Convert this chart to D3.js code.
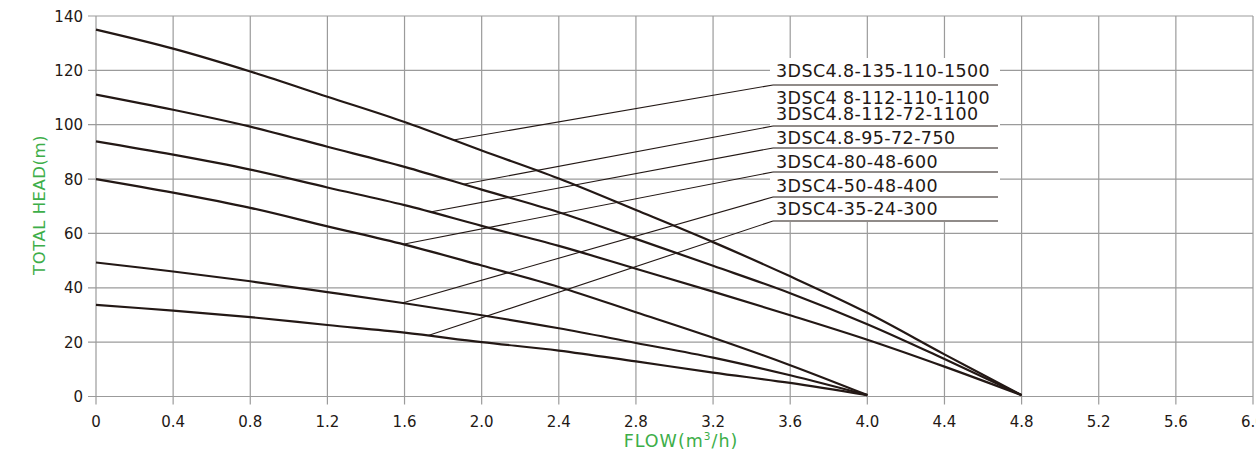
<!DOCTYPE html>
<html>
<head>
<meta charset="utf-8">
<script src="https://cdn.jsdelivr.net/npm/d3@7"></script>
<style>
 body { margin: 0; background: #fff; }
 text { font-family: "DejaVu Sans", sans-serif; }
</style>
</head>
<body>
<div id="chart"></div>
<script>
// flow points (m3/h) and head readings (m) for each pump curve
const flowLong = [0, 0.4, 0.8, 1.2, 1.6, 2.0, 2.4, 2.8, 3.2, 3.6, 4.0, 4.4, 4.8];
const flowShort = [0, 0.4, 0.8, 1.2, 1.6, 2.0, 2.4, 2.8, 3.2, 3.6, 4.0];

const head135 = [135, 128, 119.6, 110.3, 101, 90.5, 80.2, 68.6, 56.8, 44.2, 30.8, 15.5, 0.5];
const head111 = [111.1, 105.5, 99.3, 91.9, 84.5, 76.1, 67.8, 58.0, 48.1, 38.0, 26.6, 13.8, 0.5];
const head94 = [93.9, 89, 83.5, 76.9, 70.4, 62.8, 55.4, 47.0, 38.6, 29.9, 20.9, 11.0, 0.5];
const head80 = [80, 75, 69.4, 62.6, 55.9, 48.2, 40.3, 31.0, 21.6, 11.5, 0.5];
const head49 = [49.3, 46, 42.4, 38.4, 34.3, 29.9, 25.1, 19.7, 14.3, 7.8, 0.5];
const head34 = [33.7, 31.6, 29.2, 26.3, 23.5, 20.0, 16.9, 12.9, 8.8, 5.0, 0.5];

const models = [
 "3DSC4.8-135-110-1500",
 "3DSC4 8-112-110-1100",
 "3DSC4.8-112-72-1100",
 "3DSC4.8-95-72-750",
 "3DSC4-80-48-600",
 "3DSC4-50-48-400",
 "3DSC4-35-24-300"
];
// flow where each leader line touches its curve
const leaderFlow = [1.853, 1.905, 1.733, 1.593, 1.588, 1.723];

const xTicks = [0, 0.4, 0.8, 1.2, 1.6, 2.0, 2.4, 2.8, 3.2, 3.6, 4.0, 4.4, 4.8, 5.2, 5.6, 6.0];
const yTicks = [0, 20, 40, 60, 80, 100, 120, 140];

const curves = [
 { q: flowLong, h: head135 },
 { q: flowLong, h: head111 },
 { q: flowLong, h: head94 },
 { q: flowShort, h: head80 },
 { q: flowShort, h: head49 },
 { q: flowShort, h: head34 }
];

const width = 1256;
const height = 455;
const margin = { top: 16, right: 3, bottom: 58.5, left: 96 };

const svg = d3
 .select("#chart")
 .append("svg")
 .attr("width", width)
 .attr("height", height);

const x = d3.scaleLinear().domain([0, 6]).range([margin.left, width - margin.right]);
const y = d3.scaleLinear().domain([0, 140]).range([height - margin.bottom, margin.top]);

const gridColor = "#9b9b9b";
const ink = "#231815";

// grid
svg.append("g")
 .selectAll("line")
 .data(xTicks)
 .join("line")
 .attr("x1", (d) => x(d)).attr("x2", (d) => x(d))
 .attr("y1", y(140)).attr("y2", y(0) + 8)
 .attr("stroke", gridColor).attr("stroke-width", 1.2);

svg.append("g")
 .selectAll("line")
 .data(yTicks)
 .join("line")
 .attr("x1", x(0) - 8).attr("x2", x(6))
 .attr("y1", (d) => y(d)).attr("y2", (d) => y(d))
 .attr("stroke", gridColor).attr("stroke-width", 1.2);

// tick labels
svg.append("g")
 .selectAll("text")
 .data(xTicks)
 .join("text")
 .attr("x", (d) => x(d))
 .attr("y", y(0) + 30)
 .attr("text-anchor", "middle")
 .attr("font-size", 15)
 .attr("fill", ink)
 .text((d) => (d === 0 ? "0" : d.toFixed(1)));

svg.append("g")
 .selectAll("text")
 .data(yTicks)
 .join("text")
 .attr("x", x(0) - 13)
 .attr("y", (d) => y(d) + 5.5)
 .attr("text-anchor", "end")
 .attr("font-size", 15)
 .attr("fill", ink)
 .text((d) => d);

// axis titles
svg.append("text")
 .attr("transform", "translate(45,205) rotate(-90)")
 .attr("text-anchor", "middle")
 .attr("font-size", 16.5)
 .attr("letter-spacing", 0.5)
 .attr("fill", "#3dae49")
 .text("TOTAL HEAD(m)");

const xt = svg.append("text")
 .attr("x", 681)
 .attr("y", 447)
 .attr("text-anchor", "middle")
 .attr("font-size", 17.5)
 .attr("letter-spacing", 1)
 .attr("fill", "#3dae49");
xt.append("tspan").text("FLOW(m");
xt.append("tspan").attr("font-size", 10.5).attr("dy", -7).text("3");
xt.append("tspan").attr("dy", 7).text("/h)");

// curves
const line = d3.line()
 .x((d) => x(d[0]))
 .y((d) => y(d[1]))
 .curve(d3.curveCatmullRom.alpha(0.5));

svg.append("g")
 .selectAll("path")
 .data(curves)
 .join("path")
 .attr("d", (c) => line(c.q.map((q, i) => [q, c.h[i]])))
 .attr("fill", "none")
 .attr("stroke", ink)
 .attr("stroke-width", 2.2);

// label block
const labelLeft = 773;
const labelRight = 998;
const textRows = [77, 104, 120, 144, 168, 192, 215];
const underRows = [85, 126, 148, 172, 197, 221];

svg.append("rect")
 .attr("x", labelLeft - 3)
 .attr("y", 58)
 .attr("width", labelRight - labelLeft + 5)
 .attr("height", 164)
 .attr("fill", "#fff");

svg.append("g")
 .selectAll("text")
 .data(models)
 .join("text")
 .attr("x", labelLeft + 3)
 .attr("y", (d, i) => textRows[i])
 .attr("font-size", 17.5)
 .attr("letter-spacing", 0.4)
 .attr("fill", ink)
 .text((d) => d);

svg.append("g")
 .selectAll("line")
 .data(underRows)
 .join("line")
 .attr("x1", labelLeft).attr("x2", labelRight)
 .attr("y1", (d) => d).attr("y2", (d) => d)
 .attr("stroke", ink).attr("stroke-width", 1.1);

function headAt(c, q) {
 const i = Math.min(d3.bisectRight(c.q, q), c.q.length - 1);
 const t = (q - c.q[i - 1]) / (c.q[i] - c.q[i - 1]);
 return c.h[i - 1] + t * (c.h[i] - c.h[i - 1]);
}

svg.append("g")
 .selectAll("line")
 .data(leaderFlow)
 .join("line")
 .attr("x1", (d) => x(d))
 .attr("y1", (d, i) => y(headAt(curves[i], d)))
 .attr("x2", labelLeft)
 .attr("y2", (d, i) => underRows[i])
 .attr("stroke", ink)
 .attr("stroke-width", 1.1);
</script>
</body>
</html>
